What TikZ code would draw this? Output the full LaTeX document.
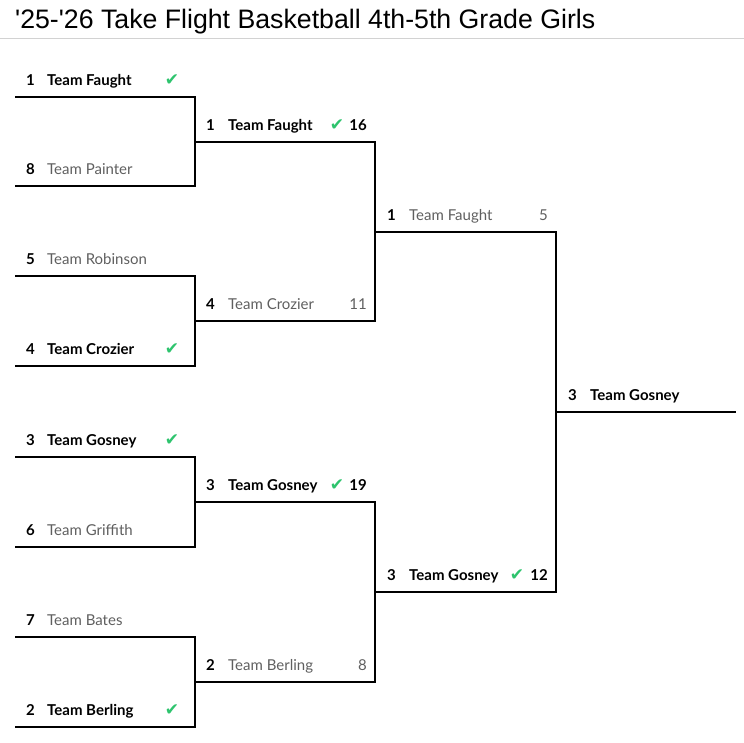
\documentclass[tikz,border=0pt]{standalone}
\usepackage{fontspec}
\setmainfont{Lato}
\newfontfamily\titlefont{Liberation Sans}
\newfontfamily\tickfont{DejaVu Sans}
\usetikzlibrary{positioning}
\usepackage{xcolor}
\definecolor{tickgreen}{RGB}{46,196,110}
\definecolor{losergray}{RGB}{95,95,95}
\definecolor{rulegray}{RGB}{210,210,210}
\tikzset{seednode/.style={anchor=base west, inner sep=0pt, font=\fontsize{15}{18}\selectfont\bfseries, text=black},winnernode/.style={anchor=base west, inner sep=0pt, font=\fontsize{15}{18}\selectfont\bfseries, text=black},losernode/.style={anchor=base west, inner sep=0pt, font=\fontsize{15}{18}\selectfont, text=losergray}}
\tikzset{ticknode/.style={anchor=base, inner sep=0pt, font=\tickfont\fontsize{17}{20}\selectfont, text=tickgreen},winscore/.style={anchor=base east, inner sep=0pt, font=\fontsize{15}{18}\selectfont\bfseries, text=black},losescore/.style={anchor=base east, inner sep=0pt, font=\fontsize{15}{18}\selectfont, text=losergray}}

\begin{document}
\begin{tikzpicture}[
        x=1pt, y=-1pt,
        line join=miter,
        bracketline/.style={draw=black, line width=1.5pt},
    ]
        \useasboundingbox (0,0) rectangle (744,742);
        % Title
        \node[anchor=base west, inner sep=0pt, font=\titlefont\fontsize{26.7}{30}\selectfont, text=black] (title) at (15,28) {'25-'26 Take Flight Basketball 4th-5th Grade Girls};
        \coordinate (rulel) at (0,38);
        \coordinate (ruler) at (744,38);
        \draw[rulegray, line width=1pt] (rulel) -- (ruler);
        % Line ends
        \foreach \i/\y in {1/97, 2/186, 3/276, 4/366, 5/457, 6/547, 7/637, 8/727} {
            \coordinate (ra\i) at (15,\y);
            \coordinate (rb\i) at (195,\y);
        }
        \foreach \i/\y in {1/142, 2/321, 3/502, 4/682} {
            \coordinate (sa\i) at (195,\y);
            \coordinate (sb\i) at (375,\y);
        }
        \foreach \i/\y in {1/232, 2/592} {
            \coordinate (ta\i) at (375,\y);
            \coordinate (tb\i) at (556,\y);
        }
        \coordinate (fa) at (556,412);
        \coordinate (fb) at (736,412);
        % Lines
        \draw[bracketline] (ra1) -- (rb1) -- (rb2) -- (ra2);
        \draw[bracketline] (ra3) -- (rb3) -- (rb4) -- (ra4);
        \draw[bracketline] (ra5) -- (rb5) -- (rb6) -- (ra6);
        \draw[bracketline] (ra7) -- (rb7) -- (rb8) -- (ra8);
        \draw[bracketline] (sa1) -- (sb1) -- (sb2) -- (sa2);
        \draw[bracketline] (sa3) -- (sb3) -- (sb4) -- (sa4);
        \draw[bracketline] (ta1) -- (tb1) -- (tb2) -- (ta2);
        \draw[bracketline] (fa) -- (fb);
        % Round 1
        \foreach \i/\seed/\team/\kind in {
            1/1/Team Faught/winnernode,
            2/8/Team Painter/losernode,
            3/5/Team Robinson/losernode,
            4/4/Team Crozier/winnernode,
            5/3/Team Gosney/winnernode,
            6/6/Team Griffith/losernode,
            7/7/Team Bates/losernode,
            8/2/Team Berling/winnernode} {
            \node[seednode] (rseed\i) at ([xshift=11pt, yshift=11.5pt]ra\i) {\seed};
            \node[\kind] (rteam\i) at ([xshift=32pt, yshift=11.5pt]ra\i) {\team};
        }
        \foreach \i in {1, 4, 5, 8} {
            \node[ticknode] (rtick\i) at ([xshift=-23pt, yshift=11.5pt]rb\i) {✔};
        }
        % Round 2
        \foreach \i/\seed/\team/\kind/\score/\scorekind in {
            1/1/Team Faught/winnernode/16/winscore,
            2/4/Team Crozier/losernode/11/losescore,
            3/3/Team Gosney/winnernode/19/winscore,
            4/2/Team Berling/losernode/8/losescore} {
            \node[seednode] (sseed\i) at ([xshift=11pt, yshift=11.5pt]sa\i) {\seed};
            \node[\kind] (steam\i) at ([xshift=33pt, yshift=11.5pt]sa\i) {\team};
            \node[\scorekind] (sscore\i) at ([xshift=-8pt, yshift=11.5pt]sb\i) {\score};
        }
        \foreach \i in {1, 3} {
            \node[ticknode] (stick\i) at ([xshift=-38pt, yshift=11.5pt]sb\i) {✔};
        }
        % Round 3
        \node[seednode] (tseed1) at ([xshift=12pt, yshift=11.5pt]ta1) {1};
        \node[losernode] (tteam1) at ([xshift=34pt, yshift=11.5pt]ta1) {Team Faught};
        \node[losescore] (tscore1) at ([xshift=-8pt, yshift=11.5pt]tb1) {5};
        \node[seednode] (tseed2) at ([xshift=12pt, yshift=11.5pt]ta2) {3};
        \node[winnernode] (tteam2) at ([xshift=34pt, yshift=11.5pt]ta2) {Team Gosney};
        \node[ticknode] (ttick2) at ([xshift=-39pt, yshift=11.5pt]tb2) {✔};
        \node[winscore] (tscore2) at ([xshift=-8pt, yshift=11.5pt]tb2) {12};
        % Champion
        \node[seednode] (fseed) at ([xshift=12pt, yshift=11.5pt]fa) {3};
        \node[winnernode] (fteam) at ([xshift=34pt, yshift=11.5pt]fa) {Team Gosney};
    \end{tikzpicture}
\end{document}
